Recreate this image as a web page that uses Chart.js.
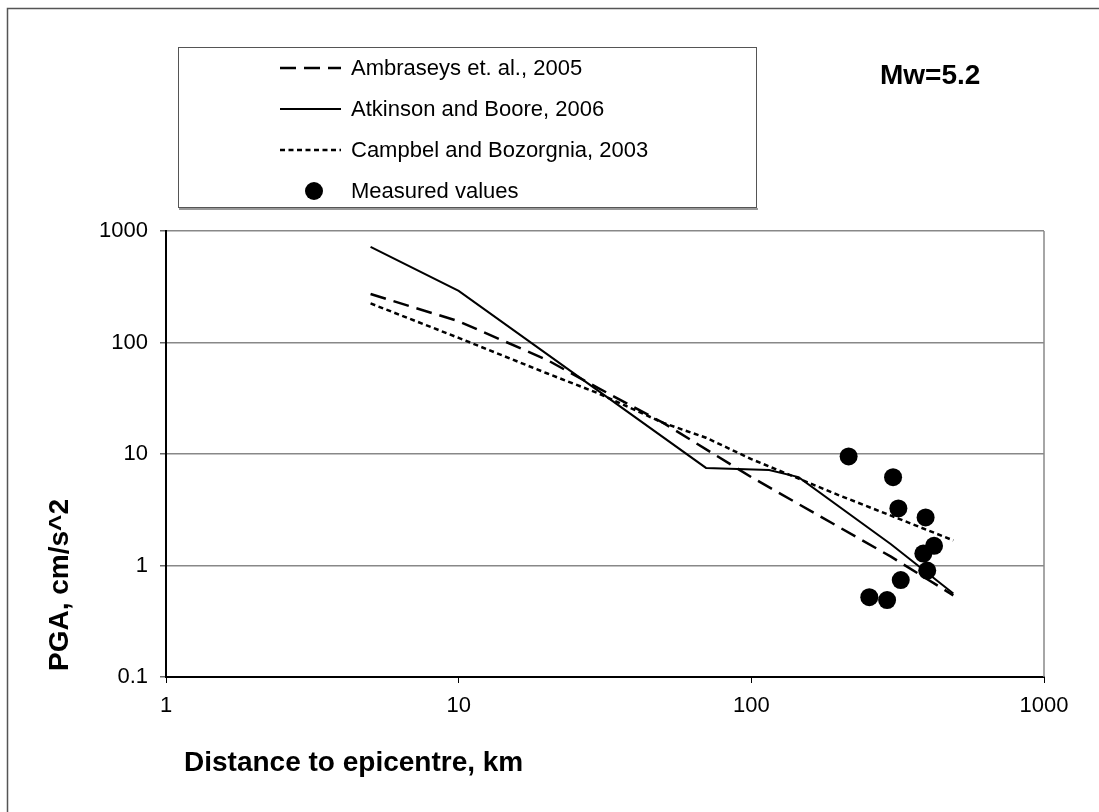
<!DOCTYPE html>
<html>
<head>
<meta charset="utf-8">
<script src="https://cdn.jsdelivr.net/npm/chart.js@4.4.1/dist/chart.umd.min.js"></script>
<style>
  html, body { margin: 0; padding: 0; background: #fff; }
  #pgaChart { display: block; }
</style>
</head>
<body>
<canvas id="pgaChart" width="1099" height="812"></canvas>
<script>
// Attenuation models (distance km -> PGA cm/s^2)
const ambraseysDist = [5, 10, 20, 30, 50, 100, 200, 300, 490];
const ambraseysPga  = [272, 155, 70, 39, 19, 6.2, 2.2, 1.2, 0.54];

const atkinsonDist = [5, 10, 70, 115, 145, 300, 490];
const atkinsonPga  = [720, 290, 7.5, 7.2, 6.2, 1.55, 0.56];

const campbelDist = [5, 10, 20, 30, 50, 70, 100, 150, 200, 300, 490];
const campbelPga  = [224, 110, 53, 35, 19, 14, 9, 5.8, 4.25, 2.8, 1.68];

// Recorded stations
const measuredDist = [215, 305, 318, 394, 421, 387, 399, 324, 253, 291];
const measuredPga  = [9.5, 6.2, 3.25, 2.7, 1.5, 1.28, 0.9, 0.74, 0.52, 0.49];

const xTicks = [1, 10, 100, 1000];
const yTicks = [0.1, 1, 10, 100, 1000];

const legendItems = [
    { label: "Ambraseys et. al., 2005", dash: [16, 8], width: 2.5 },
    { label: "Atkinson and Boore, 2006", dash: [], width: 2 },
    { label: "Campbel and Bozorgnia, 2003", dash: [5, 3.5], width: 2.5 },
    { label: "Measured values", dot: true }
];

const FONT = "'Liberation Sans', Arial, sans-serif";

function toPoints(xs, ys) {
    return xs.map((x, i) => ({ x: x, y: ys[i] }));
}

const decorations = {
    id: "decorations",
    beforeDraw(chart) {
        const ctx = chart.ctx;
        ctx.save();
        ctx.fillStyle = "#fff";
        ctx.fillRect(0, 0, chart.width, chart.height);
        ctx.restore();
    },
    afterDraw(chart) {
        const ctx = chart.ctx;
        const area = chart.chartArea;
        ctx.save();

        // outer frame (only top and left edges are visible)
        ctx.strokeStyle = "#555";
        ctx.lineWidth = 1.5;
        ctx.beginPath();
        ctx.moveTo(chart.width, 8.5);
        ctx.lineTo(7.5, 8.5);
        ctx.lineTo(7.5, chart.height);
        ctx.stroke();

        // right edge of plot area
        ctx.strokeStyle = "#888";
        ctx.lineWidth = 1.5;
        ctx.beginPath();
        ctx.moveTo(area.right, area.top);
        ctx.lineTo(area.right, area.bottom);
        ctx.stroke();

        // legend box
        ctx.strokeStyle = "#555";
        ctx.lineWidth = 1;
        ctx.strokeRect(178.5, 47.5, 578, 160);
        ctx.strokeStyle = "#999";
        ctx.lineWidth = 2;
        ctx.beginPath();
        ctx.moveTo(179, 209);
        ctx.lineTo(758, 209);
        ctx.stroke();

        const rowY = [68, 109, 150, 191];
        ctx.font = "22px " + FONT;
        ctx.textBaseline = "middle";
        ctx.textAlign = "left";
        legendItems.forEach((item, i) => {
            const y = rowY[i];
            ctx.strokeStyle = "#000";
            ctx.fillStyle = "#000";
            if (item.dot) {
                ctx.beginPath();
                ctx.arc(314, y, 9, 0, Math.PI * 2);
                ctx.fill();
            } else {
                ctx.lineWidth = item.width;
                ctx.setLineDash(item.dash);
                ctx.beginPath();
                ctx.moveTo(280, y);
                ctx.lineTo(341, y);
                ctx.stroke();
                ctx.setLineDash([]);
            }
            ctx.fillText(item.label, 351, y + 1);
        });

        // magnitude note
        ctx.font = "bold 28px " + FONT;
        ctx.fillText("Mw=5.2", 880, 76);

        // axis titles
        ctx.font = "bold 28px " + FONT;
        ctx.fillText("Distance to epicentre, km", 184, 763);

        ctx.translate(60, 585);
        ctx.rotate(-Math.PI / 2);
        ctx.textAlign = "center";
        ctx.fillText("PGA, cm/s^2", 0, 0);

        ctx.restore();
    }
};

const ctx = document.getElementById("pgaChart").getContext("2d");

new Chart(ctx, {
    type: "scatter",
    data: {
        datasets: [
            {
                label: "Measured values",
                data: toPoints(measuredDist, measuredPga),
                pointRadius: 9,
                pointHoverRadius: 9,
                backgroundColor: "#000",
                borderColor: "#000",
                borderWidth: 0,
                order: 0
            },
            {
                label: "Ambraseys et. al., 2005",
                data: toPoints(ambraseysDist, ambraseysPga),
                showLine: true,
                pointRadius: 0,
                borderColor: "#000",
                borderWidth: 2.5,
                borderDash: [16, 8],
                order: 1
            },
            {
                label: "Atkinson and Boore, 2006",
                data: toPoints(atkinsonDist, atkinsonPga),
                showLine: true,
                pointRadius: 0,
                borderColor: "#000",
                borderWidth: 2,
                order: 2
            },
            {
                label: "Campbel and Bozorgnia, 2003",
                data: toPoints(campbelDist, campbelPga),
                showLine: true,
                pointRadius: 0,
                borderColor: "#000",
                borderWidth: 2.5,
                borderDash: [5, 3.5],
                order: 3
            }
        ]
    },
    options: {
        responsive: false,
        animation: false,
        layout: { padding: { left: 0, top: 231, right: 55, bottom: 0 } },
        plugins: {
            legend: { display: false },
            tooltip: { enabled: false }
        },
        scales: {
            x: {
                type: "logarithmic",
                min: 1,
                max: 1000,
                afterBuildTicks: (scale) => {
                    scale.ticks = xTicks.map(v => ({ value: v }));
                },
                afterFit: (scale) => { scale.height = 135; },
                ticks: {
                    color: "#000",
                    font: { family: FONT, size: 22 },
                    padding: 10,
                    maxRotation: 0,
                    autoSkip: false,
                    callback: (v) => String(v)
                },
                grid: {
                    drawOnChartArea: false,
                    drawTicks: true,
                    tickLength: 6,
                    color: "#000",
                    lineWidth: 1
                },
                border: { color: "#000", width: 2 }
            },
            y: {
                type: "logarithmic",
                min: 0.1,
                max: 1000,
                afterBuildTicks: (scale) => {
                    scale.ticks = yTicks.map(v => ({ value: v }));
                },
                afterFit: (scale) => { scale.width = 166; },
                ticks: {
                    color: "#000",
                    font: { family: FONT, size: 22 },
                    padding: 12,
                    autoSkip: false,
                    callback: (v) => String(v)
                },
                grid: {
                    color: "#888",
                    lineWidth: 1.5,
                    tickLength: 6,
                    tickColor: "#666"
                },
                border: { color: "#000", width: 2 }
            }
        }
    },
    plugins: [decorations]
});
</script>
</body>
</html>
